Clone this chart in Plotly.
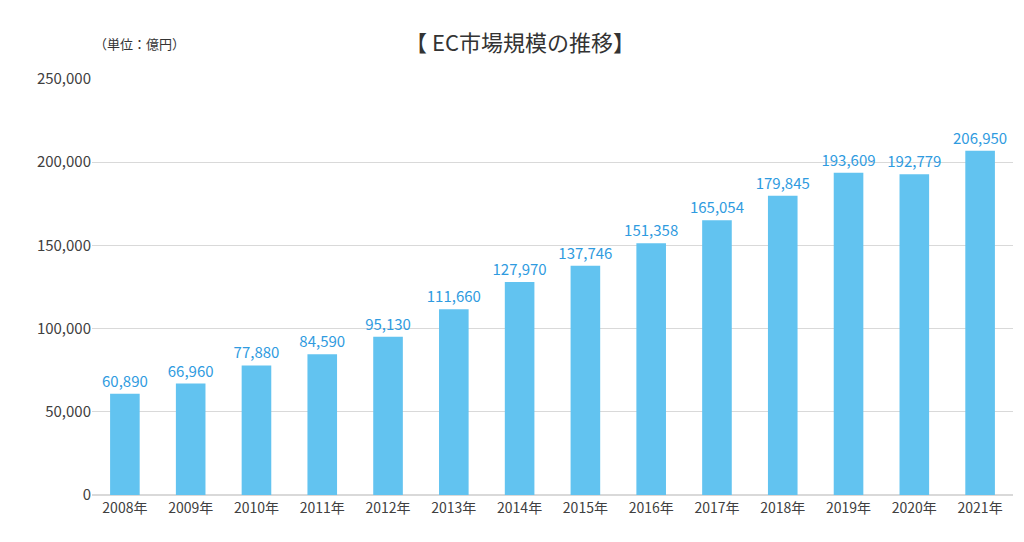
import plotly.graph_objects as go

years = ["2008年", "2009年", "2010年", "2011年", "2012年", "2013年", "2014年",
         "2015年", "2016年", "2017年", "2018年", "2019年", "2020年", "2021年"]
market_size = [60890, 66960, 77880, 84590, 95130, 111660, 127970,
               137746, 151358, 165054, 179845, 193609, 192779, 206950]

font_family = "Noto Sans CJK JP"

fig = go.Figure()
fig.add_trace(go.Bar(
    x=years,
    y=market_size,
    width=0.45,
    marker=dict(color="#62c3f0", line=dict(width=0)),
    text=[f"{v:,}" for v in market_size],
    textposition="outside",
    constraintext="none",
    textfont=dict(color="#2f9be0", size=15),
    cliponaxis=False,
))

fig.update_layout(
    width=1024, height=542,
    paper_bgcolor="white", plot_bgcolor="white",
    font=dict(family=font_family, color="#404040", size=14),
    margin=dict(l=84, r=19, t=71, b=55, autoexpand=False),
    showlegend=False,
    title=dict(text="【 EC市場規模の推移】", x=0.5, xanchor="center", y=0.935, yanchor="middle",
               font=dict(size=22, color="#333333")),
    annotations=[dict(text="（単位：億円）", xref="paper", yref="paper", x=0.0, y=1.085,
                      xanchor="left", yanchor="middle", showarrow=False,
                      font=dict(size=13, color="#333333"))],
)
fig.update_yaxes(range=[0, 250000], dtick=50000, tickformat=",", gridcolor="#d9d9d9",
                 zeroline=True, zerolinecolor="#d9d9d9", ticks="", tickfont=dict(size=15))
fig.update_xaxes(showline=True, linecolor="#d9d9d9", tickfont=dict(size=14))

fig.write_html("out.html")
